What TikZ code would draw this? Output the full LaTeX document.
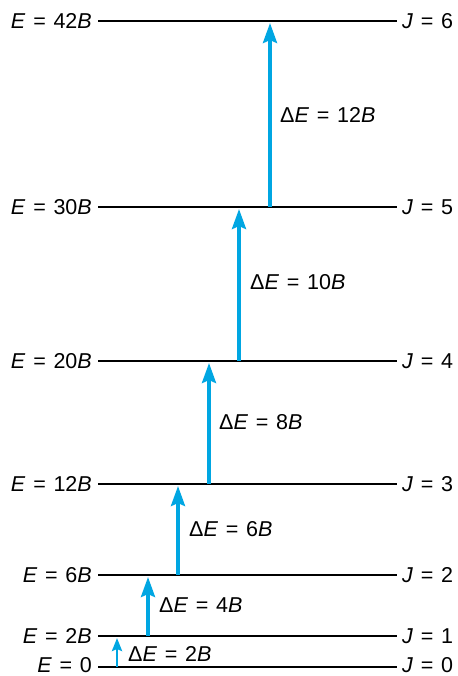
\documentclass[tikz,border=0pt]{standalone}
\usepackage{fontspec}
\setmainfont{Liberation Sans}
\usetikzlibrary{arrows.meta}
\definecolor{arrowblue}{RGB}{0,166,226}
\newcommand{\eqs}{\hspace{0.36em}=\hspace{0.36em}}
\begin{document}
\begin{tikzpicture}[x=1pt,y=-1pt,
  lvl/.style={line width=2pt,black},
  lab/.style={font=\fontsize{21.5}{25}\selectfont,inner sep=0pt},
  llab/.style={lab,anchor=east},
  rlab/.style={lab,anchor=west},
  dlab/.style={lab,anchor=west},
  trans/.style={line width=3.6pt,arrowblue,-{Stealth[length=20pt,width=14pt,inset=3pt]}},
  smalltrans/.style={line width=2.6pt,arrowblue,-{Stealth[length=13pt,width=10pt,inset=2pt]}}]
\useasboundingbox (0,0) rectangle (457,676);
% levels: y positions
\foreach \n/\y/\e in {0/667/0, 1/636/2\textit{B}, 2/575/6\textit{B}, 3/484/12\textit{B}, 4/361/20\textit{B}, 5/207/30\textit{B}, 6/21/42\textit{B}}{
  \coordinate (a\n) at (98,\y);
  \coordinate (b\n) at (397,\y);
  \draw[lvl] (a\n) -- (b\n);
}
\node[llab] (L0) at (92,665) {\textit{E}\eqs 0};
\node[rlab] (R0) at (402,665) {\textit{J}\eqs 0};
\foreach \n/\y/\e in {1/636/2\textit{B}, 2/575/6\textit{B}, 3/484/12\textit{B}, 4/361/20\textit{B}, 5/207/30\textit{B}, 6/21/42\textit{B}}{
  \node[llab] (L\n) at (92,\y) {\textit{E}\eqs\e};
  \node[rlab] (R\n) at (402,\y) {\textit{J}\eqs\n};
}
% transitions
\coordinate (t0) at (117,667); \coordinate (u0) at (117,638);
\coordinate (t1) at (148,636); \coordinate (u1) at (148,577);
\coordinate (t2) at (178,575); \coordinate (u2) at (178,486);
\coordinate (t3) at (209,484); \coordinate (u3) at (209,363);
\coordinate (t4) at (239,361); \coordinate (u4) at (239,209);
\coordinate (t5) at (270,207); \coordinate (u5) at (270,23);
\draw[smalltrans] (t0) -- (u0);
\draw[trans] (t1) -- (u1);
\draw[trans] (t2) -- (u2);
\draw[trans] (t3) -- (u3);
\draw[trans] (t4) -- (u4);
\draw[trans] (t5) -- (u5);
\node[dlab] (d0) at (128,654) {Δ\textit{E}\eqs 2\textit{B}};
\node[dlab] (d1) at (159,605) {Δ\textit{E}\eqs 4\textit{B}};
\node[dlab] (d2) at (189,529) {Δ\textit{E}\eqs 6\textit{B}};
\node[dlab] (d3) at (219,422) {Δ\textit{E}\eqs 8\textit{B}};
\node[dlab] (d4) at (250,282) {Δ\textit{E}\eqs 10\textit{B}};
\node[dlab] (d5) at (280,115) {Δ\textit{E}\eqs 12\textit{B}};
\end{tikzpicture}
\end{document}
